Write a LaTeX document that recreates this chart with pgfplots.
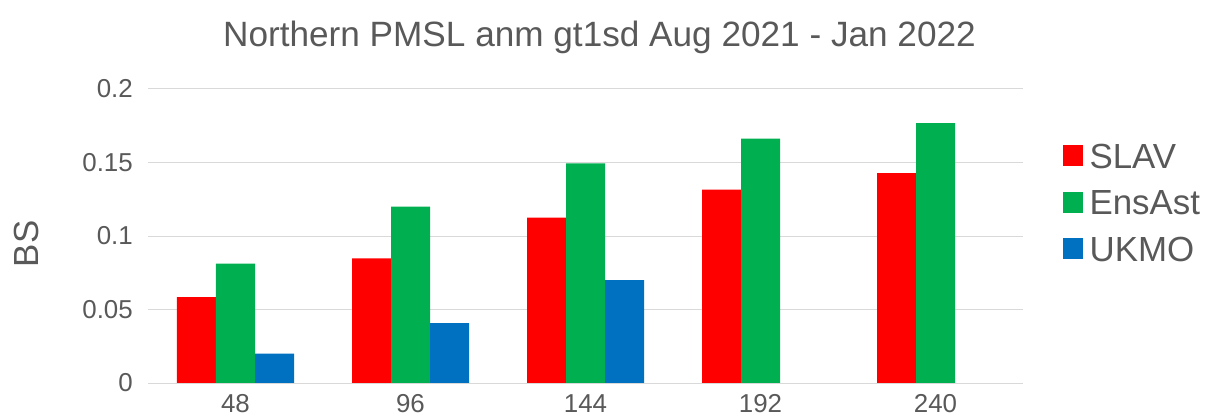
\documentclass[border=0pt]{standalone}
\usepackage{fontspec}
\setmainfont{Liberation Sans}
\usepackage{pgfplots}
\pgfplotsset{compat=1.18}
\definecolor{cSLAV}{HTML}{FF0000}
\definecolor{cEns}{HTML}{00B050}
\definecolor{cUK}{HTML}{0070C0}
\definecolor{txt}{HTML}{595959}
\definecolor{gridc}{HTML}{D9D9D9}
\begin{document}
\begin{tikzpicture}
\useasboundingbox (-148bp,-33bp) rectangle (1059bp,383bp);
\begin{axis}[
  at={(0,0)}, anchor=south west,
  scale only axis, width=875bp, height=294bp,
  ybar=0pt, bar width=39bp,
  xmin=-0.5, xmax=4.5, ymin=0, ymax=0.2,
  xtick={0,1,2,3,4}, xticklabels={48,96,144,192,240},
  ytick={0,0.05,0.1,0.15,0.2}, yticklabels={0,0.05,0.1,0.15,0.2},
  ymajorgrids, grid style={gridc, line width=1pt},
  axis line style={draw=none}, tick style={draw=none},
  major tick length=0pt,
  tick label style={font=\fontsize{26}{30}\selectfont, text=txt},
  xticklabel style={anchor=base, inner sep=0pt, yshift=-29.5bp},
  yticklabel style={anchor=east, inner sep=0pt, xshift=-15bp},
  ylabel={BS},
  ylabel style={at={(axis description cs:-0.1383,0.473)}, anchor=center, font=\fontsize{35}{40}\selectfont, text=txt},
  legend style={draw=none, fill=none, at={(axis description cs:1.045,0.61)}, anchor=west,
    font=\fontsize{35}{40}\selectfont, text=txt, row sep=21bp, inner sep=0pt,
    nodes={inner xsep=2bp, inner ysep=0pt}, cells={anchor=west},
    /tikz/every odd column/.append style={column sep=5bp}},
  legend image code/.code={\fill[#1,draw=none] (0bp,-9bp) rectangle (20bp,12bp);},
]
\addplot[fill=cSLAV, draw=none] coordinates {(0,0.0585) (1,0.0848) (2,0.1125) (3,0.1315) (4,0.1427)};
\addplot[fill=cEns, draw=none] coordinates {(0,0.0812) (1,0.1200) (2,0.1494) (3,0.1662) (4,0.1767)};
\addplot[fill=cUK, draw=none] coordinates {(0,0.0199) (1,0.0408) (2,0.0699)};
\legend{SLAV,EnsAst,UKMO}
\end{axis}
\node[anchor=base, font=\fontsize{35.3}{40}\selectfont, text=txt] at (451.5bp,336bp) {Northern PMSL anm gt1sd Aug 2021 - Jan 2022};
\end{tikzpicture}
\end{document}
